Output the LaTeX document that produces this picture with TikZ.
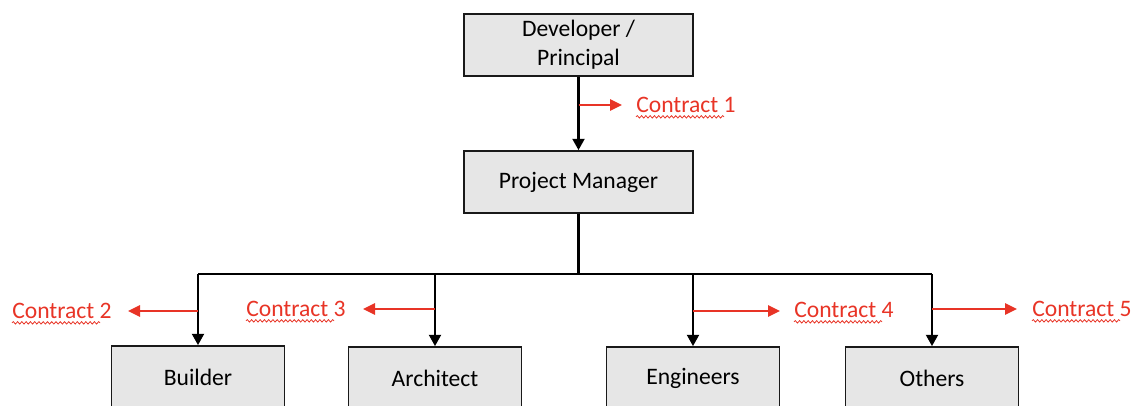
\documentclass[tikz,border=0pt]{standalone}
\usepackage{fontspec}
\setmainfont{Carlito}
\usetikzlibrary{arrows.meta,decorations.pathmorphing}
\definecolor{boxfill}{RGB}{230,230,230}
\definecolor{contractred}{RGB}{232,52,38}
\tikzset{
  orgbox/.style={draw=black!90, fill=boxfill, line width=1.35pt,
    minimum width=129.75pt, minimum height=46.5pt, inner sep=0pt,
    align=center, font=\fontsize{17.7}{21.75}\selectfont},
  topbox/.style={orgbox, minimum width=171.75pt},
  link/.style={line width=1.6pt, black},
  linkarrow/.style={link, -{Triangle[length=8.5pt,width=9pt]}},
  contract/.style={contractred, line width=1.2pt, -{Triangle[length=9pt,width=8.5pt]}},
  contractlabel/.style={text=contractred, inner sep=0pt, anchor=west,
    font=\fontsize{17.7}{21}\selectfont},
  spellmark/.style={contractred, line width=0.6pt, decorate,
    decoration={snake, amplitude=0.9pt, segment length=3.2pt}},
}
\begin{document}
\begin{tikzpicture}[x=0.75pt, y=-0.75pt]
  \useasboundingbox (0,0) rectangle (1139,405);
  \clip (0,0) rectangle (1139,405);

  % management chain
  \node[topbox] (dev) at (578.5,45) {Developer /\\Principal};
  \node[topbox] (pm)  at (578.5,182) {Project Manager};

  % consultants and contractors (lower edges run off the page)
  \node[orgbox] (builder)   at (198,377) {Builder};
  \node[orgbox] (architect) at (435,378) {Architect};
  \node[orgbox] (engineers) at (693,378) {Engineers};
  \node[orgbox] (others)    at (932,378) {Others};

  % links
  \draw[linkarrow] (dev) -- (pm);
  \coordinate (bus) at (578.5,274);
  \draw[link] (pm.south) -- (bus);
  \draw[link] (builder.north |- bus) -- (others.north |- bus);
  \foreach \n in {builder,architect,engineers,others}
    \draw[linkarrow] (\n.north |- bus) -- (\n.north);

  % contract markers
  \coordinate (c1s) at (578.5,105);  \coordinate (c1e) at (622,105);
  \coordinate (c2s) at (198,311);    \coordinate (c2e) at (128,311);
  \coordinate (c3s) at (435,309);    \coordinate (c3e) at (363,309);
  \coordinate (c4s) at (693,311);    \coordinate (c4e) at (780,311);
  \coordinate (c5s) at (932,309);    \coordinate (c5e) at (1017,309);
  \foreach \i in {1,...,5}
    \draw[contract] (c\i s) -- (c\i e);

  \node[contractlabel] (t1) at (636,105)  {Contract 1};
  \node[contractlabel] (t2) at (12,311)   {Contract 2};
  \node[contractlabel] (t3) at (246,309)  {Contract 3};
  \node[contractlabel] (t4) at (794,310)  {Contract 4};
  \node[contractlabel] (t5) at (1032,309) {Contract 5};

  \foreach \i in {1,...,5}
    \draw[spellmark] ([yshift=-3.2pt]t\i.base west) -- ++(66pt,0);
\end{tikzpicture}
\end{document}
